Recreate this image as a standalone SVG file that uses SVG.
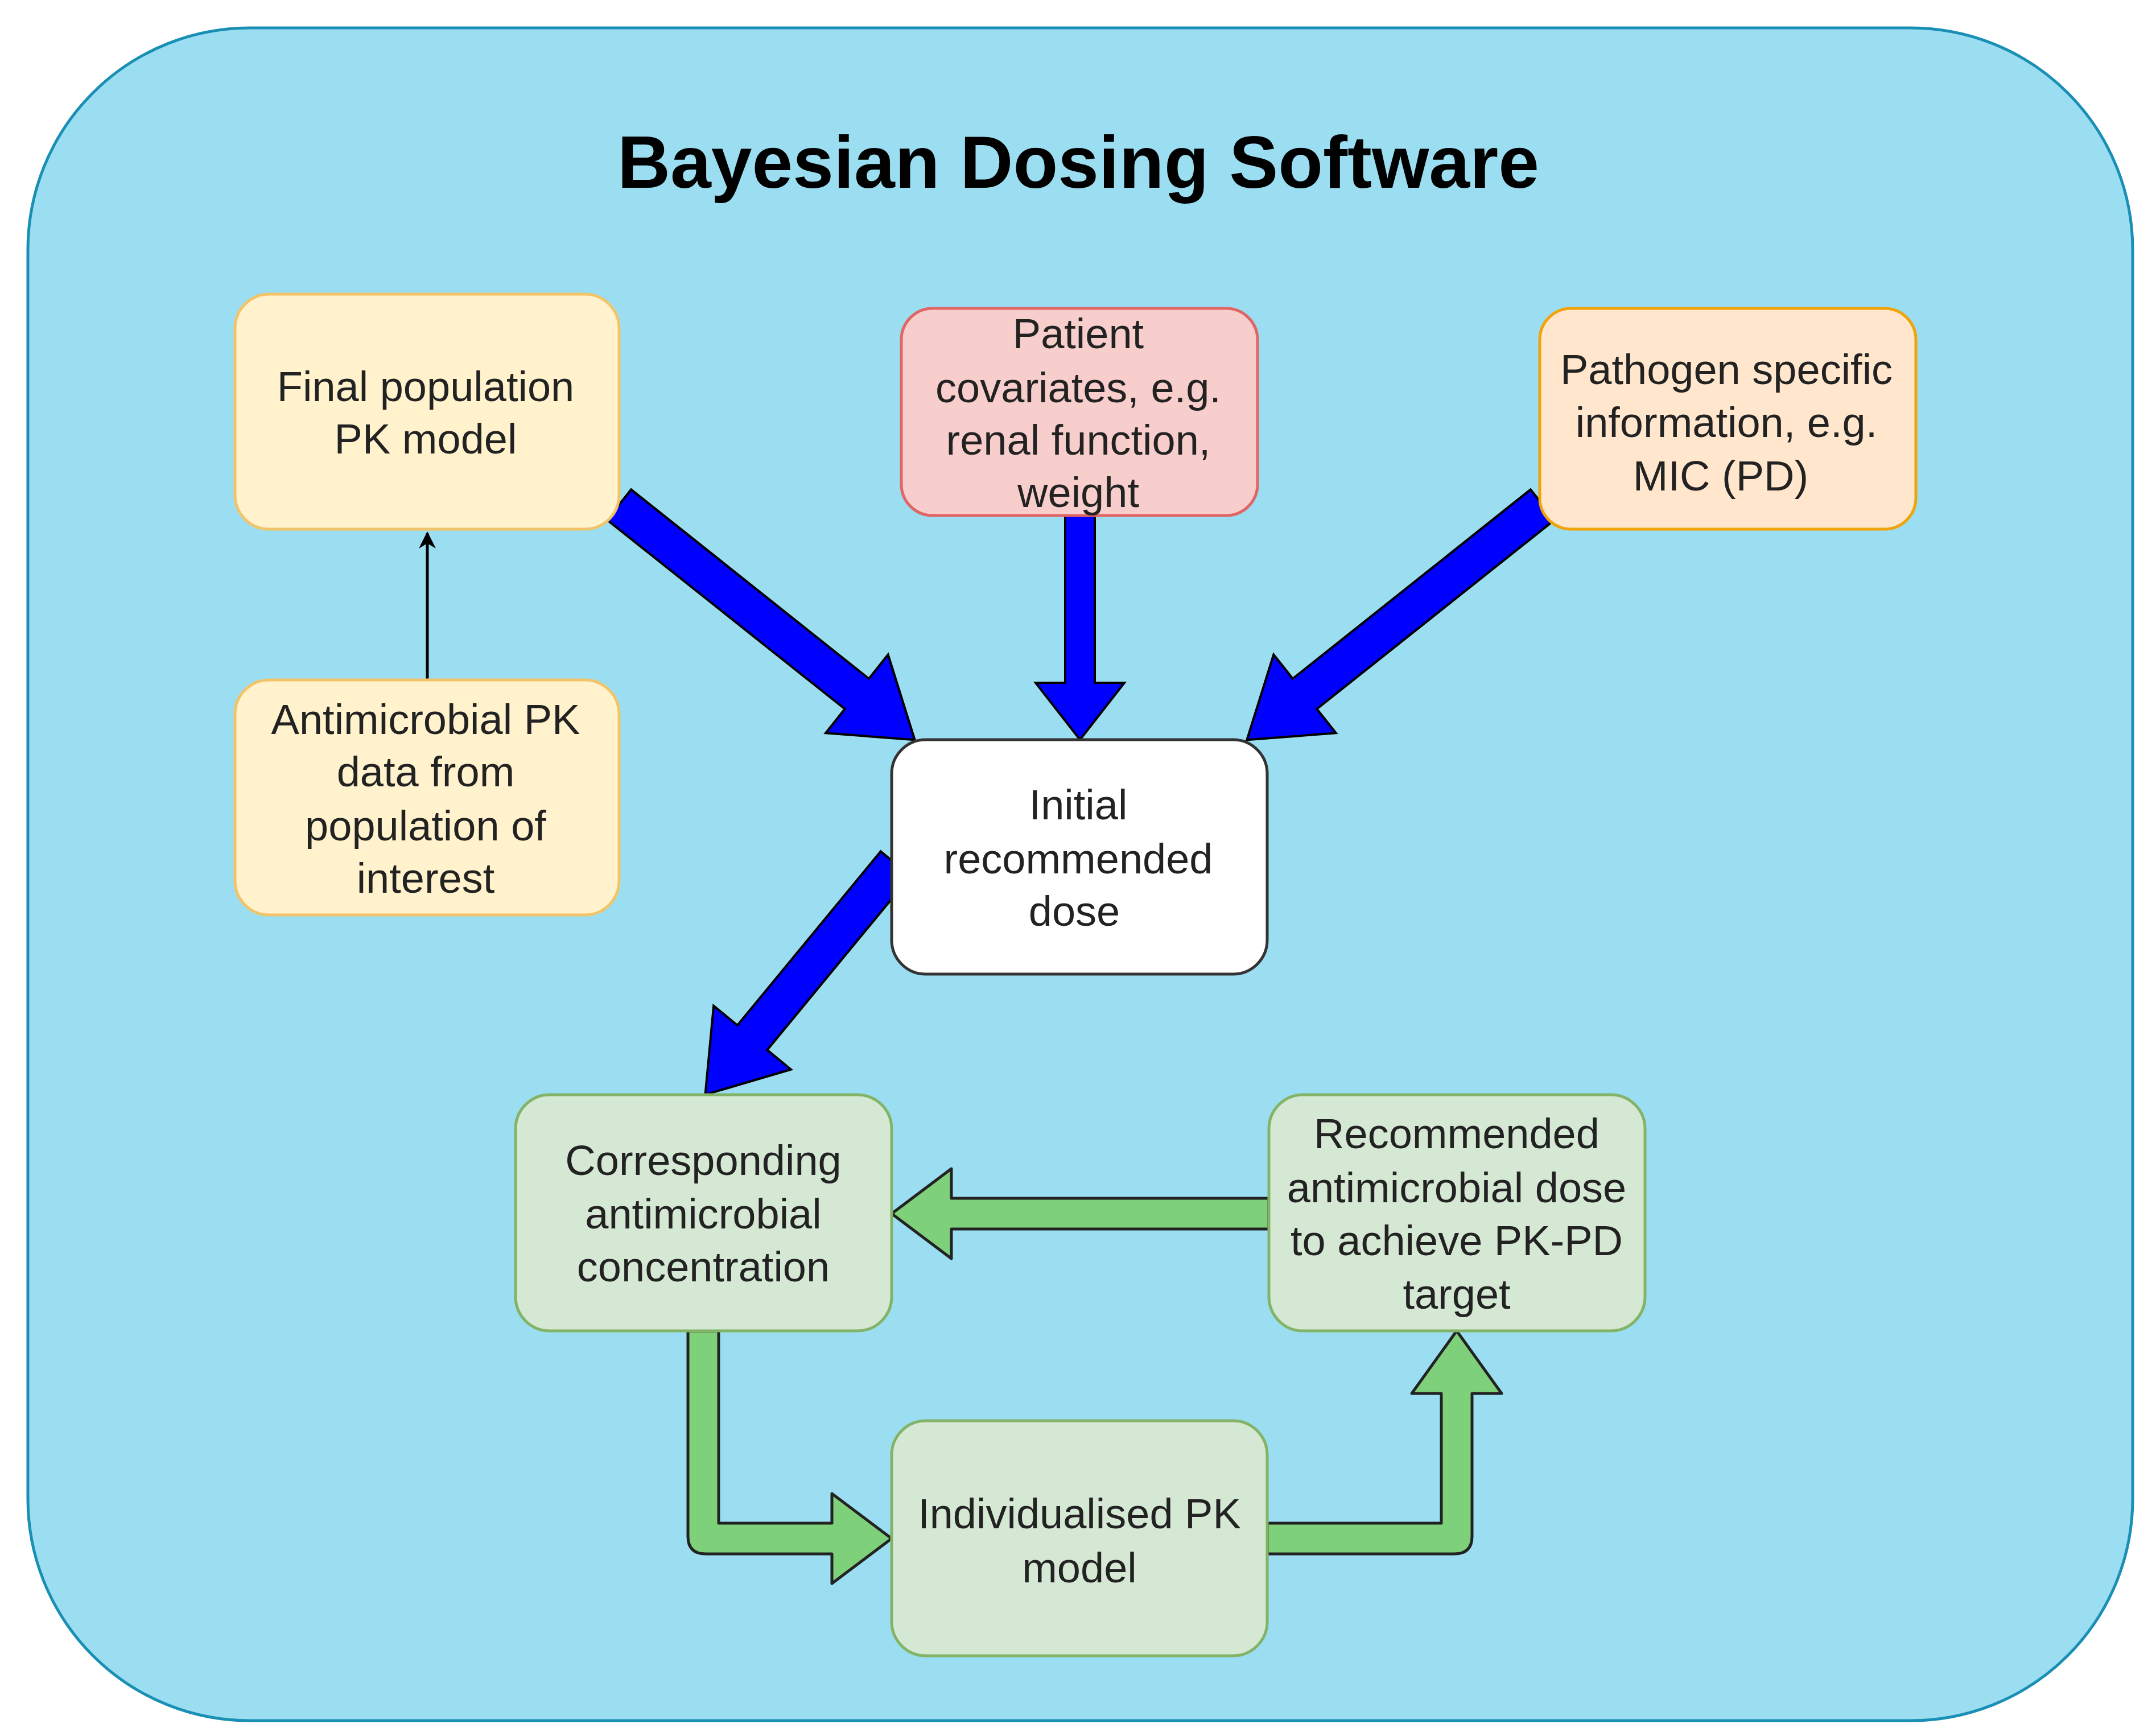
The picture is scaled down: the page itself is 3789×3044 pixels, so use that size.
<svg xmlns="http://www.w3.org/2000/svg" width="3789" height="3044" viewBox="0 0 3789 3044">
<style>
.t{font-family:"Liberation Sans",Arial,sans-serif;font-size:74px;fill:#222;text-anchor:middle}
.ttl{font-family:"Liberation Sans",Arial,sans-serif;font-size:129px;font-weight:bold;fill:#000;text-anchor:middle}
.blue{fill:#0000FF;stroke:#000;stroke-width:4}
.green{fill:#7ED17A;stroke:#222;stroke-width:5;stroke-linejoin:round}
.y{fill:#FFF2CC;stroke:#F2C46A;stroke-width:5}
</style>
<defs>
<marker id="ah" viewBox="0 0 10 10" refX="9" refY="5" markerWidth="34" markerHeight="30" markerUnits="userSpaceOnUse" orient="auto"><path d="M0,0 L10,5 L0,10 L3,5 z" fill="#000"/></marker>
</defs>
<rect x="0" y="0" width="3789" height="3044" fill="#fff"/>
<rect x="49" y="49" width="3699" height="2975" rx="390" fill="#9CDEF1" stroke="#1A8FB5" stroke-width="5"/>
<text class="ttl" x="1895" y="330">Bayesian Dosing Software</text>
<g id="connectors">
<path class="blue" transform="translate(1088,887) rotate(38.5)" d="M0,-34 L534,-34 L534,-88 L664,0 L534,88 L534,34 L0,34 Z"/>
<path class="blue" transform="translate(1898,906) rotate(90)" d="M0,-26 L294,-26 L294,-78 L394,0 L294,78 L294,26 L0,26 Z"/>
<path class="blue" transform="translate(2711,887) rotate(141.5)" d="M0,-34 L534,-34 L534,-88 L664,0 L534,88 L534,34 L0,34 Z"/>
<path class="blue" transform="translate(1574,1518) rotate(129.5)" d="M0,-34 L396,-34 L396,-88 L526,0 L396,88 L396,34 L0,34 Z"/>
<path class="green" d="M2230,2106 L1672,2106 L1672,2054 L1567,2133 L1672,2212 L1672,2160 L2230,2160 Z"/>
<path class="green" d="M1209,2339 L1263,2339 L1263,2677 L1462,2677 L1462,2625 L1567,2704 L1462,2783 L1462,2731 L1240,2731 Q1209,2731 1209,2700 Z"/>
<path class="green" d="M2227,2677 L2533,2677 L2533,2449 L2481,2449 L2560,2339 L2639,2449 L2587,2449 L2587,2700 Q2587,2731 2556,2731 L2227,2731 Z"/>
<line x1="751" y1="1195" x2="751" y2="937" stroke="#000" stroke-width="5" marker-end="url(#ah)"/>
</g>
<g id="final-pop"><rect class="y" x="413" y="517" width="675" height="413" rx="60"/>
<text class="t" x="748" y="705">Final population</text><text class="t" x="748" y="797">PK model</text></g>
<g id="pk-data"><rect class="y" x="413" y="1195" width="675" height="413" rx="60"/>
<text class="t" x="748" y="1290">Antimicrobial PK</text><text class="t" x="748" y="1382">data from</text><text class="t" x="748" y="1477">population of</text><text class="t" x="748" y="1569">interest</text></g>
<g id="patient"><rect x="1584" y="542" width="626" height="364" rx="55" fill="#F8CECC" stroke="#E06666" stroke-width="5"/>
<text class="t" x="1895" y="612">Patient</text><text class="t" x="1895" y="707">covariates, e.g.</text><text class="t" x="1895" y="799">renal function,</text><text class="t" x="1895" y="891">weight</text></g>
<g id="pathogen"><rect x="2706" y="542" width="661" height="388" rx="55" fill="#FFE6CC" stroke="#F0A30A" stroke-width="5"/>
<text class="t" x="3034" y="675">Pathogen specific</text><text class="t" x="3034" y="768">information, e.g.</text><text class="t" x="3024" y="862">MIC (PD)</text></g>
<g id="initial"><rect x="1567" y="1300" width="660" height="412" rx="60" fill="#fff" stroke="#333" stroke-width="5"/>
<text class="t" x="1895" y="1440">Initial</text><text class="t" x="1895" y="1535">recommended</text><text class="t" x="1888" y="1627">dose</text></g>
<g id="corresponding"><rect x="906" y="1924" width="661" height="415" rx="60" fill="#D5E8D4" stroke="#82B366" stroke-width="5"/>
<text class="t" x="1236" y="2065">Corresponding</text><text class="t" x="1236" y="2159">antimicrobial</text><text class="t" x="1236" y="2252">concentration</text></g>
<g id="recommended"><rect x="2230" y="1924" width="661" height="415" rx="60" fill="#D5E8D4" stroke="#82B366" stroke-width="5"/>
<text class="t" x="2560" y="2018">Recommended</text><text class="t" x="2560" y="2113">antimicrobial dose</text><text class="t" x="2560" y="2206">to achieve PK-PD</text><text class="t" x="2560" y="2300">target</text></g>
<g id="individualised"><rect x="1567" y="2497" width="660" height="413" rx="60" fill="#D5E8D4" stroke="#82B366" stroke-width="5"/>
<text class="t" x="1897" y="2686">Individualised PK</text><text class="t" x="1897" y="2781">model</text></g>
</svg>
